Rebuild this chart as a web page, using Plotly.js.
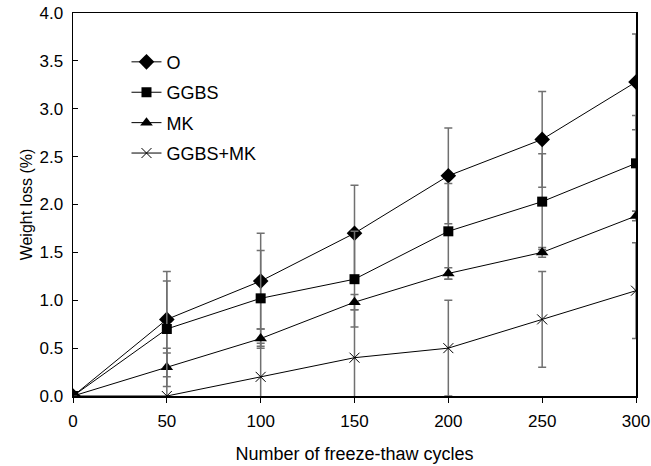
<!DOCTYPE html>
<html>
<head>
<meta charset="utf-8">
<script src="https://cdn.plot.ly/plotly-3.0.1.min.js"></script>
<style>html,body{margin:0;padding:0;background:#fff;}#chart{width:651px;height:466px;}</style>
</head>
<body>
<div id="chart"></div>
<script>
const cycles = [0, 50, 100, 150, 200, 250, 300];
const seriesNames = ["O", "GGBS", "MK", "GGBS+MK"];
const lossO = [0, 0.80, 1.20, 1.70, 2.30, 2.68, 3.28];
const lossGGBS = [0, 0.70, 1.02, 1.22, 1.72, 2.03, 2.43];
const lossMK = [0, 0.30, 0.60, 0.98, 1.28, 1.50, 1.88];
const lossGGBSMK = [0, 0.00, 0.20, 0.40, 0.50, 0.80, 1.10];
const errO = [null, 0.50, 0.50, 0.50, 0.50, 0.50, 0.50];
const errGGBS = [null, 0.50, 0.50, 0.50, 0.50, 0.50, 0.50];
const errMK = [null, 0.20, 0.10, 0.08, 0.06, 0.05, 0.05];
const errGGBSMK = [null, 0.45, 0.35, 0.50, 0.50, 0.50, 0.50];
const xTicks = [0, 50, 100, 150, 200, 250, 300];
const yTicks = [0, 0.5, 1.0, 1.5, 2.0, 2.5, 3.0, 3.5, 4.0];

const FONT = "Liberation Sans, Arial, sans-serif";
const symbols = ["diamond", "square", "triangle-up", "x-thin"];
const sizes = [12, 10, 11, 10];
const ys = [lossO, lossGGBS, lossMK, lossGGBSMK];
const errs = [errO, errGGBS, errMK, errGGBSMK];

const traces = seriesNames.map((name, i) => ({
  type: "scatter",
  mode: "lines+markers",
  name: name,
  legendgroup: "g" + i,
  x: cycles,
  y: ys[i],
  line: {color: "#000", width: 1},
  marker: {
    symbol: symbols[i],
    size: sizes[i],
    color: "#000",
    line: {color: "#000", width: i === 3 ? 1 : 0}
  },
  error_y: {
    type: "data",
    array: errs[i],
    visible: true,
    color: "#707070",
    thickness: 1.5,
    width: 4
  },
  cliponaxis: true
}));

const layout = {
  width: 651,
  height: 466,
  margin: {l: 73, r: 15, t: 13, b: 70},
  paper_bgcolor: "#fff",
  plot_bgcolor: "#fff",
  font: {family: FONT, size: 17, color: "#000"},
  showlegend: true,
  legend: {
    x: 0.095, y: 0.92, xanchor: "left", yanchor: "top",
    bgcolor: "rgba(0,0,0,0)",
    font: {family: FONT, size: 18, color: "#000"},
    tracegroupgap: 4
  },
  xaxis: {
    range: [0, 300],
    tickvals: xTicks,
    ticktext: xTicks.map(String),
    ticks: "outside",
    ticklen: 5,
    tickcolor: "#000",
    showgrid: false,
    zeroline: false,
    showline: true,
    linecolor: "#000",
    linewidth: 1.5,
    mirror: true,
    tickfont: {family: FONT, size: 17},
    ticklabelstandoff: 4,
    title: {text: "Number of freeze-thaw cycles", font: {family: FONT, size: 18}, standoff: 17}
  },
  yaxis: {
    range: [0, 4],
    tickvals: yTicks,
    ticktext: yTicks.map(v => v.toFixed(1)),
    ticks: "inside",
    ticklen: 5,
    tickcolor: "#000",
    showgrid: false,
    zeroline: false,
    showline: true,
    linecolor: "#000",
    linewidth: 1.5,
    mirror: true,
    tickfont: {family: FONT, size: 17},
    ticklabelstandoff: 5,
    title: {text: "Weight loss (%)", font: {family: FONT, size: 16}, standoff: 3}
  }
};

Plotly.newPlot("chart", traces, layout, {displayModeBar: false, staticPlot: true});
</script>
</body>
</html>
